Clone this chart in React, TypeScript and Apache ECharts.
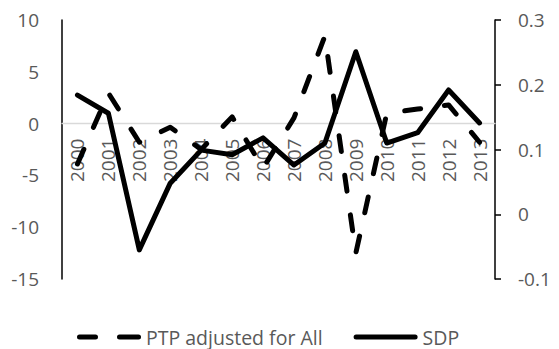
import React, { useEffect, useRef } from "react";
import * as echarts from "echarts";

const years = ["2000", "2001", "2002", "2003", "2004", "2005", "2006", "2007", "2008", "2009", "2010", "2011", "2012", "2013"];
const ptpAdjusted = [-3.9, 2.95, -1.8, -0.35, -2.5, 0.65, -4.3, 0.55, 8.45, -12.5, 1.0, 1.4, 1.8, -1.8];
const sdp = [0.184, 0.156, -0.055, 0.048, 0.099, 0.092, 0.118, 0.076, 0.11, 0.251, 0.11, 0.126, 0.192, 0.141];
const leftTicks = { min: -15, max: 10, interval: 5 };
const rightTicks = { min: -0.1, max: 0.3, interval: 0.1 };

const FONT = "Open Sans";
const GRAY = "#595959";
const GRID_TOP = 20;
const GRID_BOTTOM = 70;
const HEIGHT = 349;

export default function App() {
  const ref = useRef<HTMLDivElement>(null);
  useEffect(() => {
    if (!ref.current) return;
    const chart = echarts.init(ref.current, null, { renderer: "svg" });
    const plotH = HEIGHT - GRID_TOP - GRID_BOTTOM;
    const zeroFromBottom = (plotH * (0 - leftTicks.min)) / (leftTicks.max - leftTicks.min);
    chart.setOption({
      animation: false,
      backgroundColor: "#ffffff",
      textStyle: { fontFamily: FONT },
      grid: { left: 62, right: 64, top: GRID_TOP, bottom: GRID_BOTTOM, containLabel: false },
      legend: {
        top: 322,
        left: 72,
        itemWidth: 64,
        itemHeight: 5,
        itemGap: 31,
        symbolKeepAspect: false,
        textStyle: { color: GRAY, fontSize: 19.5, fontFamily: FONT, padding: 0 },
        data: [
          { name: "PTP adjusted for All", icon: "path://M2.5,0h16a2.5,2.5 0 0 1 0,5h-16a2.5,2.5 0 0 1 0,-5z M42.5,0h19a2.5,2.5 0 0 1 0,5h-19a2.5,2.5 0 0 1 0,-5z" },
          { name: "SDP", icon: "path://M2.5,0h59a2.5,2.5 0 0 1 0,5h-59a2.5,2.5 0 0 1 0,-5z" },
        ],
      },
      xAxis: {
        type: "category",
        data: years,
        boundaryGap: true,
        position: "bottom",
        offset: -zeroFromBottom,
        axisLine: { onZero: false, lineStyle: { color: "#d9d9d9", width: 1.3 } },
        axisTick: { show: false },
        axisLabel: { rotate: 90, color: GRAY, fontSize: 19, fontFamily: FONT, margin: 15, interval: 0 },
        splitLine: { show: false },
      },
      yAxis: [
        {
          type: "value",
          position: "left",
          min: leftTicks.min,
          max: leftTicks.max,
          interval: leftTicks.interval,
          axisLine: { show: true, onZero: false, lineStyle: { color: "#000", width: 1.5 } },
          axisTick: { show: false },
          axisLabel: { color: GRAY, fontSize: 19, fontFamily: FONT, margin: 23 },
          splitLine: { show: false },
        },
        {
          type: "value",
          position: "right",
          min: rightTicks.min,
          max: rightTicks.max,
          interval: rightTicks.interval,
          axisLine: { show: true, onZero: false, lineStyle: { color: "#000", width: 1.5 } },
          axisTick: { show: true, inside: false, length: 6, lineStyle: { color: "#000", width: 1.5 } },
          axisLabel: { color: GRAY, fontSize: 19, fontFamily: FONT, margin: 23 },
          splitLine: { show: false },
        },
      ],
      series: [
        {
          name: "PTP adjusted for All",
          type: "line",
          yAxisIndex: 0,
          data: ptpAdjusted,
          symbol: "none",
          lineStyle: { color: "#000", width: 5, type: [16, 24], cap: "round", join: "round" },
          itemStyle: { color: "#000" },
        },
        {
          name: "SDP",
          type: "line",
          yAxisIndex: 1,
          data: sdp,
          symbol: "none",
          lineStyle: { color: "#000", width: 5, type: "solid", cap: "round", join: "round" },
          itemStyle: { color: "#000" },
        },
      ],
    });
    return () => chart.dispose();
  }, []);
  return (
    <div
      ref={ref}
      style={{ position: "fixed", left: 0, top: 0, width: 559, height: 349, background: "#fff" }}
    />
  );
}
